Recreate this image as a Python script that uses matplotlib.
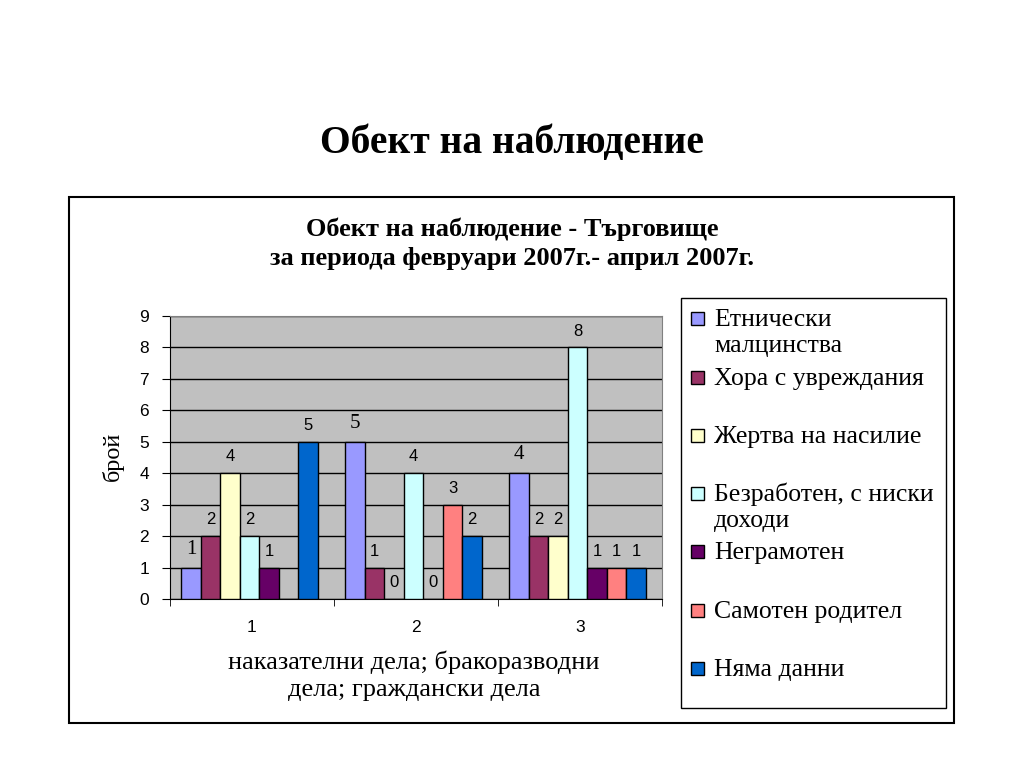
import numpy as np
import matplotlib
matplotlib.use("Agg")
import matplotlib.pyplot as plt
from matplotlib.patches import Rectangle

categories = ["1", "2", "3"]
series_names = [["Етнически", "малцинства"], ["Хора с увреждания"], ["Жертва на насилие"],
                ["Безработен, с ниски", "доходи"], ["Неграмотен"], ["Самотен родител"], ["Няма данни"]]
values = [
    [1, 5, 4],          # Етнически малцинства
    [2, 1, 2],          # Хора с увреждания
    [4, 0, 2],          # Жертва на насилие
    [2, 4, 8],          # Безработен
    [1, 0, 1],          # Неграмотен
    [np.nan, 3, 1],     # Самотен родител
    [5, 2, 1],          # Няма данни
]
colors = ["#9999FF", "#993366", "#FFFFCC", "#CCFFFF", "#660066", "#FF8080", "#0066CC"]
yticks = list(range(0, 10))

W, H = 1024, 768
fig = plt.figure(figsize=(W / 100, H / 100), dpi=100)
serif = "Liberation Serif"
sans = "Liberation Sans"

def fx(px):
    return px / W

def fy(py):
    return 1 - py / H

fig.text(0.5, fy(143), "Обект на наблюдение", ha="center", va="center",
         fontsize=28.5, fontweight="bold", family=serif)

# chart frame
fig.patches.append(Rectangle((fx(69), fy(723)), fx(954) - fx(69), fy(197) - fy(723),
                             transform=fig.transFigure, fill=False, edgecolor="black", lw=1.5))

fig.text(fx(512), fy(229), "Обект на наблюдение - Търговище", ha="center", va="center",
         fontsize=19, fontweight="bold", family=serif)
fig.text(fx(512), fy(258), "за периода февруари 2007г.- април 2007г.", ha="center", va="center",
         fontsize=19, fontweight="bold", family=serif)

ax = fig.add_axes([fx(170), fy(599), fx(662) - fx(170), fy(316) - fy(599)])
ax.set_facecolor("#C0C0C0")
x = np.arange(1, len(categories) + 1)
w = 0.119
n = len(values)
for i, (vals, c) in enumerate(zip(values, colors)):
    pos = x - 0.015 + (i - (n - 1) / 2) * w
    v = np.array(vals, dtype=float)
    ax.bar(pos, np.nan_to_num(v), width=w, color=c, edgecolor="black", linewidth=1, zorder=3)
    for p, val in zip(pos, v):
        if np.isnan(val):
            continue
        if i == 0:
            ax.text(p, val + 0.28, f"{int(val)}", ha="center", va="bottom", fontsize=15,
                    family=serif, zorder=4)
        else:
            ax.text(p, val + 0.28, f"{int(val)}", ha="center", va="bottom", fontsize=12,
                    family=sans, zorder=4)

ax.set_xlim(0.5, 3.5)
ax.set_ylim(0, 9)
ax.set_yticks(yticks)
ax.set_yticklabels([str(t) for t in yticks], family=sans, fontsize=12.5)
ax.yaxis.grid(True, color="black", lw=1, zorder=1)
ax.set_axisbelow(True)
ax.set_xticks(x)
ax.set_xticklabels(categories, family=sans, fontsize=12.5)
ax.set_xticks([0.5, 1.5, 2.5, 3.5], minor=True)
ax.tick_params(axis="x", which="major", length=0, pad=15)
ax.tick_params(axis="x", which="minor", length=5, direction="out")
ax.tick_params(axis="y", length=6, direction="out", pad=9)
for s in ["top", "right"]:
    ax.spines[s].set_color("#808080")
ax.spines["left"].set_color("black")
ax.spines["bottom"].set_color("black")

fig.text(fx(113), fy(456), "брой", rotation=90, ha="center", va="center",
         fontsize=17.5, family=serif)
fig.text(fx(414), fy(662), "наказателни дела; бракоразводни",
         ha="center", va="center", fontsize=19, family=serif)
fig.text(fx(414), fy(690), "дела; граждански дела",
         ha="center", va="center", fontsize=19, family=serif)

# legend
fig.patches.append(Rectangle((fx(681), fy(708)), fx(946) - fx(681), fy(298) - fy(708),
                             transform=fig.transFigure, fill=False, edgecolor="black", lw=1))
legend_y = [318, 377, 435, 493, 551, 610, 668]
for lines, c, ly in zip(series_names, colors, legend_y):
    fig.patches.append(Rectangle((fx(691), fy(ly + 7)), fx(13), 13 / H,
                                 transform=fig.transFigure, facecolor=c, edgecolor="black", lw=1))
    for k, line in enumerate(lines):
        fig.text(fx(714), fy(ly + 8 + 26 * k), line, ha="left", va="baseline", fontsize=18.5,
                 family=serif)

fig.savefig("out.png", dpi=100)
